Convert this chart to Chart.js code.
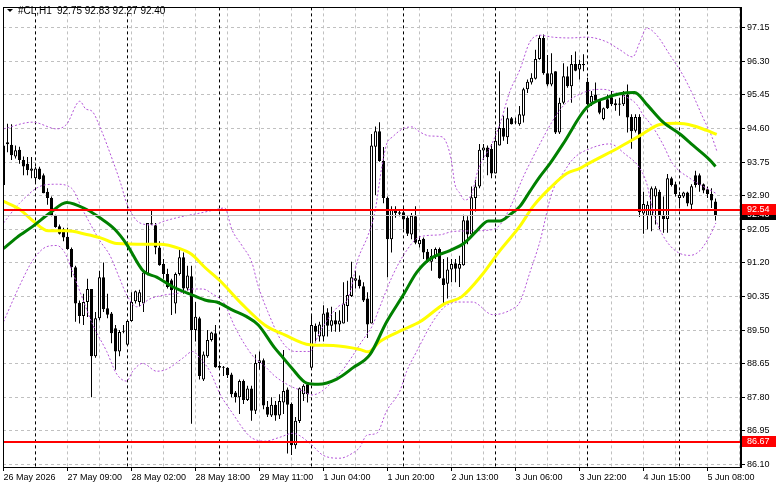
<!DOCTYPE html>
<html>
<head>
<meta charset="utf-8">
<script src="https://cdn.jsdelivr.net/npm/chart.js@4.4.1/dist/chart.umd.min.js"></script>
<style>
  html, body { margin: 0; padding: 0; background: #fff; }
  #wrap { width: 781px; height: 489px; }
</style>
</head>
<body>
<div id="wrap"><canvas id="stockChart" width="781" height="489"></canvas></div>
<script>
// #CL,H1 hourly bars, bar 0 = 26 May 16:00 ... bar 178 = 5 Jun 10:00
const symbol = "#CL,H1";
const opens = [93.17,94.20,94.19,93.89,94.06,93.80,93.71,93.53,93.34,93.59,93.42,93.00,92.84,92.39,92.13,92.05,91.86,91.55,91.09,90.19,
  89.86,90.21,90.54,88.84,89.80,90.84,90.05,89.92,89.55,88.96,89.46,89.13,89.73,90.23,90.21,90.17,90.92,92.20,92.15,91.59,
  91.17,90.92,90.76,90.17,90.92,91.34,90.55,90.86,89.50,89.80,88.25,88.84,89.25,89.42,88.59,88.55,88.55,88.38,87.92,87.80,
  88.21,87.73,88.02,87.46,88.67,88.74,87.56,87.34,87.61,87.34,87.67,88.00,87.63,86.59,87.20,87.88,88.13,88.55,89.61,89.34,
  89.34,89.95,89.61,89.75,89.64,89.67,90.11,90.36,90.75,90.78,90.61,90.30,89.67,94.14,94.53,93.78,92.84,91.80,92.55,92.44,
  92.48,92.34,91.92,92.38,91.67,91.81,91.48,91.23,91.36,91.55,90.81,90.67,91.03,91.19,91.05,91.14,92.28,91.92,92.84,93.13,
  94.04,94.12,94.08,93.46,94.17,94.61,94.38,94.86,94.75,94.71,94.92,95.59,95.76,95.86,96.36,96.89,96.00,95.71,96.05,94.50,
  95.25,95.92,95.67,96.23,96.09,96.23,95.78,95.25,95.46,95.30,94.84,95.34,95.39,95.19,95.20,95.21,95.46,94.89,94.54,94.89,
  92.45,92.39,92.39,92.88,93.00,92.42,92.31,93.34,93.19,92.84,92.88,92.98,92.67,93.42,93.42,93.19,93.06,92.94,92.75];
const highs = [94.46,94.72,94.71,94.17,94.14,93.89,93.88,93.88,93.63,93.63,93.46,93.09,92.88,92.42,92.17,92.09,92.09,91.59,91.13,90.25,
  90.42,90.80,90.54,89.96,91.00,91.21,90.42,89.96,89.63,89.50,89.63,89.75,90.46,90.50,90.52,91.01,92.21,92.55,92.21,91.75,
  91.30,91.05,90.80,90.96,91.55,91.46,91.13,91.13,90.21,89.84,88.96,89.50,89.46,89.63,88.63,88.59,88.56,88.42,87.96,88.25,
  88.25,88.09,88.09,88.88,88.96,88.78,87.71,87.80,87.71,87.88,89.00,88.05,87.67,87.30,88.05,88.13,88.17,89.90,89.67,89.71,
  90.13,90.05,90.09,89.96,90.00,90.71,90.75,91.23,91.00,90.88,90.71,90.46,94.46,94.65,94.76,94.13,92.88,92.63,92.63,92.55,
  92.59,92.38,92.46,92.63,91.88,91.84,91.55,91.55,91.59,91.59,91.30,91.34,91.30,91.30,91.38,92.42,92.38,93.13,93.30,94.21,
  94.21,94.17,94.21,94.54,96.05,94.92,95.13,94.89,94.88,95.17,95.63,95.84,96.00,96.59,96.96,96.98,96.46,96.50,96.05,95.38,
  96.25,96.17,96.46,96.55,96.34,96.48,95.88,95.55,95.76,95.34,95.13,95.46,95.55,95.34,95.38,95.55,95.71,94.96,94.96,94.96,
  93.00,92.76,93.13,93.14,93.05,92.88,93.45,93.38,93.25,93.00,93.00,93.00,93.19,93.53,93.46,93.21,93.13,93.09,92.83];
const lows = [92.80,94.00,93.80,93.84,93.71,93.42,93.42,93.34,93.21,93.30,92.96,92.67,92.38,92.09,91.92,91.75,91.53,90.84,89.71,89.67,
  89.63,89.83,87.80,88.80,89.75,89.96,89.80,89.17,88.50,88.84,89.42,89.13,89.71,90.17,90.10,89.96,90.89,92.16,91.42,91.13,
  90.80,90.55,89.88,89.92,90.88,90.42,90.50,87.13,89.21,88.25,88.21,88.80,89.21,88.55,88.50,88.34,88.29,87.80,87.67,87.38,
  87.63,87.71,87.21,87.38,88.50,87.50,87.30,87.30,87.21,87.25,87.38,86.38,86.34,86.50,87.15,87.71,87.67,88.50,89.21,89.21,
  89.21,89.34,89.46,89.46,89.46,89.67,89.71,90.34,90.55,90.55,90.21,89.30,89.67,92.92,93.76,92.71,90.84,91.46,92.34,92.38,
  92.05,91.88,91.80,91.67,91.59,91.30,91.21,91.00,91.30,90.80,90.17,90.30,90.71,90.71,90.59,91.13,91.67,91.88,92.50,93.09,
  93.80,93.42,93.34,93.46,94.17,94.29,94.21,94.70,94.71,94.67,94.75,95.50,95.71,95.84,96.34,95.96,95.67,95.67,94.46,94.46,
  95.21,95.63,95.25,96.05,95.84,96.05,95.17,95.17,95.25,94.96,94.81,95.09,95.17,95.05,94.92,95.17,94.50,94.09,94.50,92.36,
  91.94,92.05,92.00,92.17,92.05,91.96,91.96,93.13,92.88,92.63,92.84,92.63,92.55,93.11,93.00,92.96,92.84,92.59,92.27];
const closes = [94.17,94.25,93.92,94.05,93.80,93.64,93.55,93.59,93.59,93.32,92.96,92.84,92.39,92.11,91.94,91.84,91.55,91.09,90.17,89.86,
  90.21,90.54,88.84,89.80,90.84,90.03,89.89,89.42,88.96,89.45,89.46,89.73,90.21,90.48,90.46,90.96,92.21,92.17,91.59,91.14,
  90.92,90.59,90.51,90.92,91.34,90.55,90.88,89.50,89.84,88.34,88.88,89.25,89.44,88.56,88.55,88.56,88.36,87.88,87.80,88.21,
  87.73,88.02,87.46,88.67,88.74,87.59,87.36,87.61,87.34,87.71,87.96,87.61,86.59,87.21,88.03,88.09,87.88,89.63,89.46,89.64,
  89.92,89.61,89.75,89.64,89.74,90.17,90.39,90.84,90.81,90.61,90.25,89.64,94.17,94.53,93.78,92.84,91.80,92.55,92.46,92.48,
  92.30,91.94,92.39,91.71,91.78,91.46,91.23,91.38,91.55,90.81,90.64,91.03,91.17,91.05,91.17,92.28,91.92,92.86,93.13,94.06,
  94.12,93.87,93.46,94.29,94.61,94.39,94.86,94.71,94.75,94.96,95.59,95.78,95.88,96.36,96.89,96.00,95.71,96.00,94.50,95.25,
  95.92,95.67,96.23,96.06,96.23,96.20,95.21,95.42,95.30,95.00,95.11,95.11,95.21,95.24,95.23,95.46,94.88,94.53,94.89,92.48,
  92.69,92.67,93.09,93.09,92.38,92.31,93.34,93.17,92.94,92.92,92.98,92.70,93.14,93.17,93.17,93.03,92.94,92.78,92.40];

// axis labels
const xTickLabels = ["26 May 2026", "27 May 09:00", "28 May 02:00", "28 May 18:00", "29 May 11:00", "1 Jun 04:00",
  "1 Jun 20:00", "2 Jun 13:00", "3 Jun 06:00", "3 Jun 22:00", "4 Jun 15:00", "5 Jun 08:00"];
const yTicks = [86.10, 86.95, 87.80, 88.65, 89.50, 90.35, 91.20, 92.05, 92.90, 93.75, 94.60, 95.45, 96.30, 97.15];
const daySeparators = [8, 31, 54, 77, 100, 123, 146, 169]; // first bar of each day
const redLevels = [92.54, 86.67];

// indicator lines, [bar, price]
const maGreen = [[0,91.56],[3.3,91.84],[7.4,92.13],[11.6,92.46],[15.8,92.73],[20.8,92.55],[24.1,92.34],[27.8,92.05],[30.8,91.67],
  [34.9,91.00],[38.3,90.84],[42.4,90.59],[47.4,90.38],[50.8,90.25],[53.3,90.21],[57.4,90.00],[60.8,89.84],[63.7,89.63],[67.8,89.05],
  [69.9,88.80],[72,88.55],[75.8,88.16],[78.7,88.13],[83.3,88.26],[87.4,88.55],[91.6,88.88],[95.8,89.71],[99.9,90.38],[103.3,90.96],
  [106.6,91.30],[111.6,91.51],[115.3,91.71],[118.3,92.01],[121.2,92.26],[124.1,92.26],[126.6,92.42],[129.1,92.63],[131.6,93.01],
  [134.1,93.38],[136.6,93.71],[139.9,94.21],[145.8,95.13],[150.8,95.38],[154.1,95.48],[157.8,95.51],[160.8,95.21],[164.9,94.76],
  [169.1,94.46],[172.4,94.17],[176.6,93.80],[178,93.64]];
const maYellow = [[0,92.76],[4.1,92.55],[7.4,92.26],[11.2,92.01],[15.8,92.01],[20.8,91.92],[24.1,91.84],[28.3,91.69],[35.8,91.67],
  [39.1,91.67],[44.1,91.56],[47,91.42],[50.3,91.09],[54.5,90.71],[59.5,90.17],[65.3,89.63],[70.3,89.38],[76.6,89.13],[82.4,89.11],
  [89.1,89.01],[91.2,88.95],[94.1,89.21],[99.9,89.51],[104.1,89.71],[110.3,90.17],[114.5,90.34],[119.5,90.88],[124.1,91.51],
  [129.1,92.13],[132.4,92.63],[136.6,93.09],[140.8,93.46],[144.1,93.59],[146.2,93.71],[154.1,94.13],[159.1,94.42],[164.1,94.70],
  [168.3,94.73],[172.4,94.67],[175.8,94.55],[178.3,94.45]];
const bbUpper = [[0,94.59],[7.3,94.76],[13.3,94.59],[15.8,94.71],[19.1,95.29],[20.6,95.09],[22.1,95.04],[24.1,94.64],[27.3,93.79],
  [29.3,93.21],[30.8,92.71],[34.1,92.21],[37.3,92.16],[40.3,92.26],[44.1,92.36],[49.1,92.46],[52.8,92.54],[55.3,92.59],[57.1,92.04],
  [59.6,91.64],[62.1,91.21],[63.6,90.64],[66.1,89.96],[69.6,89.21],[72.8,88.96],[76.6,88.96],[79.1,89.46],[83.6,90.09],[86.1,90.29],
  [88.6,91.29],[91.1,91.89],[92.8,92.46],[94.6,93.64],[95.8,94.21],[97.3,94.39],[99.8,94.59],[102.1,94.64],[104.1,94.51],[106.6,94.41],
  [109.6,94.39],[111.1,94.14],[112.1,93.71],[112.8,93.21],[114.1,92.96],[115.3,92.79],[117.1,92.96],[118.6,93.54],[122.1,94.21],
  [124.1,94.71],[126.6,95.54],[129.1,96.09],[131.6,96.79],[134.1,96.96],[137.3,96.91],[141.6,96.89],[145.8,96.91],[150.8,96.79],
  [154.1,96.59],[157.3,96.41],[159.1,96.79],[160.8,97.14],[163.3,96.96],[166.6,96.46],[169.8,95.96],[172.3,95.46],[174.8,94.89],
  [177.1,94.39],[178.3,94.04]];
const bbMiddle = [[0,92.21],[4,92.71],[9.8,93.16],[13.3,93.19],[17,93.09],[19.8,92.54],[24.1,91.76],[26.6,91.39],[29.1,90.79],
  [30.8,90.39],[33.3,90.09],[36.6,90.29],[40.3,90.39],[44.1,90.44],[47.3,90.54],[49.8,90.54],[52.3,90.41],[55.1,90.19],[57.8,89.59],
  [60.3,89.14],[62.8,88.79],[65.1,88.61],[67.8,88.34],[71.6,88.09],[74.8,87.96],[77.1,87.86],[84.1,88.41],[90.1,89.29],[92.1,89.59],
  [94.1,90.09],[97.1,90.84],[100.1,91.41],[104.1,91.86],[109.1,91.91],[112.1,91.99],[116.6,92.01],[122.1,92.04],[124.1,92.16],
  [126.6,92.59],[130.1,93.41],[134.1,94.21],[137.1,94.76],[140.1,95.19],[145.8,95.54],[149.8,95.59],[154.1,95.46],[158.3,95.21],
  [159.8,94.96],[162.3,94.64],[164.8,94.21],[167.3,93.71],[171.6,93.34],[178.1,92.96]];
const bbLower = [[0,89.71],[4.1,90.64],[7.3,91.26],[10.8,91.61],[13.3,91.64],[15.3,91.46],[17.3,90.96],[19.8,90.29],[22.3,89.64],
  [25.8,88.96],[28.3,88.39],[30.8,88.21],[32.3,88.46],[34.8,88.66],[38.3,88.46],[40.8,88.51],[44.8,88.79],[47.3,88.96],[49.1,88.79],
  [51.6,88.46],[54.1,87.89],[57.3,87.39],[60.8,86.89],[62.3,86.76],[65.3,86.69],[69.1,86.79],[72.3,86.89],[76.6,86.64],[79.8,86.34],
  [84.1,86.26],[87.3,86.39],[89.1,86.54],[90.8,86.84],[93.3,86.89],[95.8,87.46],[99.1,87.96],[100.8,88.46],[103.3,88.96],[107.3,89.71],
  [110.3,90.09],[113.3,90.21],[117.3,90.21],[122.3,89.89],[127.3,90.04],[129.1,90.21],[131.6,90.96],[134.1,91.74],[137.1,92.97],
  [140.1,93.50],[142.6,93.85],[146.6,94.09],[151.6,94.21],[155.3,93.96],[159.1,93.59],[160.8,93.21],[162.3,92.54],[164.1,92.04],
  [166.6,91.64],[169.1,91.44],[171.6,91.39],[174.1,91.51],[176.6,91.89],[178.1,92.21]];

const last = closes.length - 1;
const bidPrice = closes[last];
const FONT = "Liberation Sans, Arial, sans-serif";

const toPoints = (arr) => arr.map(([i, v]) => ({ x: i, y: v }));
const isUp = (i) => closes[i] >= opens[i];

// grid, separators, level lines and price tags
const decor = {
    id: "decor",
    beforeDatasetsDraw(chart) {
        const { ctx, chartArea: a, scales: { x, y } } = chart;
        ctx.save();
        ctx.lineWidth = 1;
        ctx.strokeStyle = "#c0c0c0";
        ctx.setLineDash([3, 3]);
        ctx.beginPath();
        yTicks.forEach((v) => {
            const py = Math.floor(y.getPixelForValue(v)) + 0.5;
            ctx.moveTo(a.left, py);
            ctx.lineTo(a.right, py);
        });
        for (let i = 0; i <= x.max; i += 8) {
            const px = Math.floor(x.getPixelForValue(i)) + 0.5;
            ctx.moveTo(px, a.top);
            ctx.lineTo(px, a.bottom);
        }
        ctx.stroke();

        ctx.strokeStyle = "#000";
        ctx.setLineDash([3, 3]);
        ctx.beginPath();
        daySeparators.forEach((i) => {
            const px = Math.floor(x.getPixelForValue(i)) + 0.5;
            ctx.moveTo(px, a.top);
            ctx.lineTo(px, a.bottom);
        });
        ctx.stroke();
        ctx.restore();
    },
    afterDatasetsDraw(chart) {
        const { ctx, chartArea: a, scales: { y } } = chart;
        ctx.save();
        ctx.beginPath();
        ctx.rect(a.left, a.top, a.right - a.left, a.bottom - a.top);
        ctx.clip();
        // bid line
        ctx.strokeStyle = "#c0c0c0";
        ctx.lineWidth = 1;
        const pb = Math.floor(y.getPixelForValue(bidPrice)) + 0.5;
        ctx.beginPath();
        ctx.moveTo(a.left, pb);
        ctx.lineTo(a.right, pb);
        ctx.stroke();
        // horizontal levels
        ctx.strokeStyle = "#ff0000";
        ctx.lineWidth = 2;
        redLevels.forEach((v) => {
            const py = Math.round(y.getPixelForValue(v));
            ctx.beginPath();
            ctx.moveTo(a.left, py);
            ctx.lineTo(a.right, py);
            ctx.stroke();
        });
        ctx.restore();
    },
    afterDraw(chart) {
        const { ctx, chartArea: a, scales: { y } } = chart;
        ctx.save();
        // chart frame
        ctx.strokeStyle = "#000";
        ctx.lineWidth = 1;
        ctx.strokeRect(Math.floor(a.left) + 0.5, Math.floor(a.top) + 0.5,
            Math.round(a.right - a.left) - 1, Math.round(a.bottom - a.top));

        const tag = (v, bg) => {
            const py = Math.round(y.getPixelForValue(v));
            ctx.fillStyle = bg;
            ctx.fillRect(a.right + 1, py - 6, 34, 11);
            ctx.fillStyle = "#fff";
            ctx.font = "9px " + FONT;
            ctx.textBaseline = "middle";
            ctx.textAlign = "left";
            ctx.fillText(v.toFixed(2), a.right + 6, py);
        };
        tag(bidPrice, "#000");
        redLevels.forEach((v) => tag(v, "#ff0000"));

        // header
        ctx.fillStyle = "#000";
        ctx.beginPath();
        ctx.moveTo(7, 9);
        ctx.lineTo(13, 9);
        ctx.lineTo(10, 12);
        ctx.closePath();
        ctx.fill();
        ctx.font = "10px " + FONT;
        ctx.textBaseline = "middle";
        ctx.textAlign = "left";
        ctx.fillText(symbol, 18, 11);
        const ohlc = [opens[last], highs[last], lows[last], closes[last]].map((v) => v.toFixed(2)).join(" ");
        ctx.fillText(ohlc, 57, 11);
        ctx.restore();
    },
};

const idx = closes.map((_, i) => i);

new Chart(document.getElementById("stockChart").getContext("2d"), {
    data: {
        datasets: [
            {
                type: "line", label: "MA fast", data: toPoints(maGreen), order: 0,
                borderColor: "#008000", borderWidth: 3, pointRadius: 0, cubicInterpolationMode: "monotone",
            },
            {
                type: "line", label: "MA slow", data: toPoints(maYellow), order: 0,
                borderColor: "#ffff00", borderWidth: 3, pointRadius: 0, cubicInterpolationMode: "monotone",
            },
            ...[bbUpper, bbMiddle, bbLower].map((band) => ({
                type: "line", label: "BB", data: toPoints(band), order: 1,
                borderColor: "#b455d8", borderWidth: 1, borderDash: [2, 2], pointRadius: 0,
                cubicInterpolationMode: "monotone",
            })),
            {
                type: "bar", label: "body", order: 2, grouped: false,
                data: idx.map((i) => ({ x: i, y: [opens[i], closes[i]] })),
                backgroundColor: idx.map((i) => (isUp(i) ? "#ffffff" : "#000000")),
                borderColor: "#000", borderWidth: 1, borderSkipped: false,
                barThickness: 3, minBarLength: 1, inflateAmount: 0,
            },
            {
                type: "bar", label: "wick", order: 3, grouped: false,
                data: idx.map((i) => ({ x: i, y: [lows[i], highs[i]] })),
                backgroundColor: "#000", borderWidth: 0, barThickness: 1, inflateAmount: 0,
            },
        ],
    },
    options: {
        responsive: false,
        animation: false,
        devicePixelRatio: 1,
        layout: { padding: { left: 3, top: 2, right: 0, bottom: 0 } },
        plugins: { legend: { display: false }, tooltip: { enabled: false } },
        scales: {
            x: {
                type: "linear", min: -0.125, max: 184.375, offset: false,
                afterBuildTicks: (s) => { s.ticks = xTickLabels.map((_, k) => ({ value: k * 16 })); },
                afterFit: (s) => { s.height = 22; },
                ticks: {
                    callback: (v, k) => xTickLabels[k], align: "start", maxRotation: 0, autoSkip: false,
                    font: { family: FONT, size: 9 }, color: "#000", padding: 1,
                },
                grid: { drawOnChartArea: false, drawTicks: true, tickLength: 4, color: "#000", offset: false },
                border: { display: true, color: "#000" },
            },
            y: {
                type: "linear", position: "right", min: 86.0375, max: 97.6625,
                afterBuildTicks: (s) => { s.ticks = yTicks.map((v) => ({ value: v })); },
                afterFit: (s) => { s.width = 40; },
                ticks: {
                    callback: (v) => v.toFixed(2), font: { family: FONT, size: 9 }, color: "#000", padding: 2,
                },
                grid: { drawOnChartArea: false, drawTicks: true, tickLength: 4, color: "#000" },
                border: { display: true, color: "#000" },
            },
        },
    },
    plugins: [decor],
});
</script>
</body>
</html>
